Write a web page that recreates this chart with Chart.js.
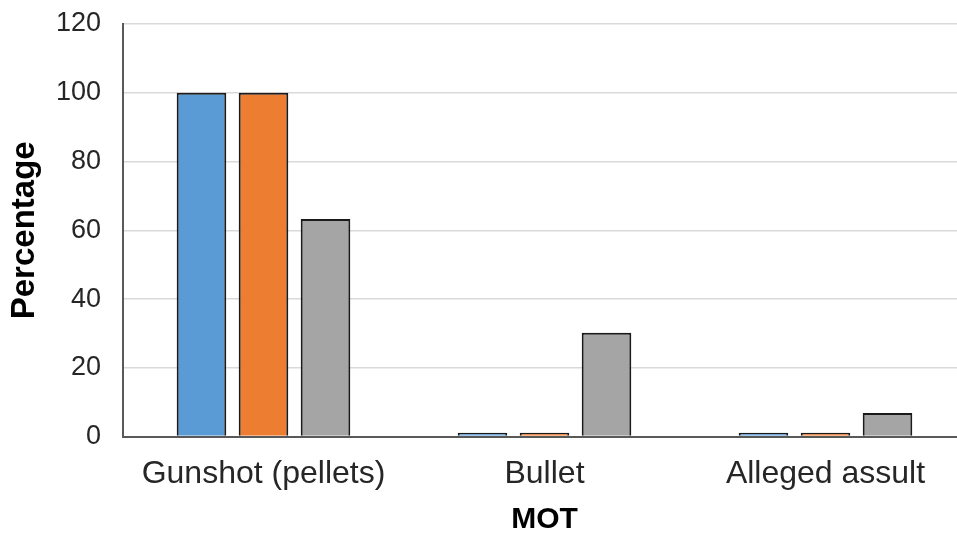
<!DOCTYPE html>
<html>
<head>
<meta charset="utf-8">
<script src="https://cdn.jsdelivr.net/npm/chart.js@4.4.0/dist/chart.umd.min.js"></script>
<style>
  html, body { margin: 0; padding: 0; background: #fff; overflow: hidden; }
  /* the plot runs a little past the right edge of the picture in the reference */
  #wrap { width: 966px; height: 534px; }
</style>
</head>
<body>
<div id="wrap"><canvas id="motChart"></canvas></div>
<script>
// Data
const categories = ['Gunshot (pellets)', 'Bullet', 'Alleged assult'];
const seriesA = [100, 1.1, 1.1];
const seriesB = [100, 1.1, 1.1];
const seriesC = [63.3, 30.2, 6.9];
const yTicks = [0, 20, 40, 60, 80, 100, 120];

const fontFamily = 'Liberation Sans, Arial, sans-serif';

const ctx = document.getElementById('motChart').getContext('2d');
const chart = new Chart(ctx, {
    type: 'bar',
    data: {
        labels: categories,
        datasets: [
            { label: 'A', data: seriesA, backgroundColor: '#5b9bd5', borderColor: '#1a1a1a', borderWidth: 2 },
            { label: 'B', data: seriesB, backgroundColor: '#ed7d31', borderColor: '#1a1a1a', borderWidth: 2 },
            { label: 'C', data: seriesC, backgroundColor: '#a5a5a5', borderColor: '#1a1a1a', borderWidth: 2 }
        ]
    },
    options: {
        responsive: true,
        maintainAspectRatio: false,
        animation: false,
        categoryPercentage: 0.662,
        barPercentage: 0.8,
        layout: { padding: { left: 0, right: 0, top: 24, bottom: 0 } },
        plugins: {
            legend: { display: false },
            tooltip: { enabled: false }
        },
        scales: {
            x: {
                grid: { display: false, drawTicks: false },
                border: { display: true, color: '#595959', width: 2 },
                ticks: {
                    color: '#262626',
                    font: { family: fontFamily, size: 32 },
                    padding: 18
                },
                title: {
                    display: true,
                    text: 'MOT',
                    color: '#000',
                    font: { family: fontFamily, size: 30, weight: 'bold' },
                    padding: { top: -9, bottom: -4 }
                }
            },
            y: {
                min: 0,
                max: 120,
                afterBuildTicks: (axis) => { axis.ticks = yTicks.map(v => ({ value: v })); },
                afterFit: (axis) => {
                    axis.width = 123;
                    axis.paddingTop = 0;
                    axis.paddingBottom = 0;
                },
                grid: { color: '#d9d9d9', lineWidth: 1.5, drawTicks: false },
                border: { display: true, color: '#595959', width: 2 },
                ticks: {
                    color: '#262626',
                    font: { family: fontFamily, size: 27 },
                    padding: 22
                },
                title: {
                    display: true,
                    text: 'Percentage',
                    color: '#000',
                    font: { family: fontFamily, size: 33, weight: 'bold' },
                    padding: { top: 5, bottom: 0 }
                }
            }
        }
    }
});
</script>
</body>
</html>
